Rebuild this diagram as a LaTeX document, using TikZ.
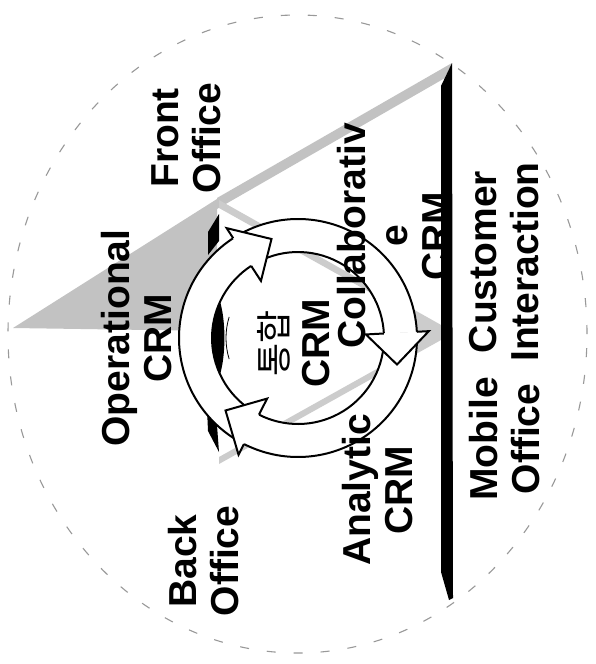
\documentclass[tikz,border=0pt]{standalone}
\usepackage{fontspec}
\setmainfont{Liberation Sans}
\newfontfamily\krfont{Noto Sans CJK KR}
\begin{document}
\begin{tikzpicture}[x=1pt,y=1pt,
  lbl/.style={font=\bfseries\fontsize{39}{42}\selectfont, rotate=90, align=center, inner sep=0pt},
  beam/.style={fill=black!24},
  ringline/.style={line width=2pt, line join=miter},
  bar/.style={fill=black},
]
% page
\fill[white] (0,0) rectangle (596,-664);
\useasboundingbox (0,0) rectangle (596,-664);

% dashed outer outline
\draw[black!40, line width=1.1pt, dash pattern=on 9pt off 18pt]
  (297.5,-334) ellipse[x radius=289.5pt, y radius=319pt];

% grey light fan and beam towards the interaction line
\fill[beam] (13,-328) -- (217,-199) -- (217,-331) -- cycle;
\fill[beam] (217,-198) -- (452,-63) -- (445,-78) -- (217,-209) -- cycle;
% edges of the wedge pointing at the middle of the line
\fill[black!20] (219,-200) -- (450,-330) -- (450,-337) -- (219,-208) -- cycle;
\fill[black!20] (219,-457) -- (450,-328) -- (450,-335) -- (219,-464) -- cycle;
\fill[black!20] (402,-305) -- (451,-333) -- (398,-362) -- cycle;

% customer interaction line
\fill[bar] (452,-63) -- (453,-598) -- (449,-600) -- (441,-572) -- (441,-86) -- cycle;
% back office edges
\fill[bar] (219,-214) -- (219,-241) -- (208,-255) -- (208,-232) -- cycle;
\fill[bar] (207,-409) -- (216,-412) -- (219,-452) -- (208,-431) -- cycle;

% cycle of three curved arrows
\begin{scope}[shift={(298,-338)}]
  \foreach \ta/\ba in {238/123,118/3,358/243}{
    \fill[white] (\ta:119) arc[start angle=\ta,end angle=\ba,radius=119pt]
      -- (\ba:86) arc[start angle=\ba,end angle=\ta,radius=86pt] -- cycle;
    \draw[ringline] (\ta:119) arc[start angle=\ta,end angle=\ba,radius=119pt];
    \draw[ringline] (\ta:86) arc[start angle=\ta,end angle=\ba,radius=86pt];
  }
  \foreach \ba in {123,3,243}{
    \pgfmathsetmacro\tp{\ba-18}
    \fill[white] (\ba:68) -- (\tp:102.5) -- (\ba:131) -- cycle;
    \draw[ringline] (\ba:86) -- (\ba:68) -- (\tp:102.5) -- (\ba:131) -- (\ba:119);
  }
  % inner shadow of the ring
  \fill (155:86) arc[start angle=155,end angle=205,radius=86pt]
    .. controls (193:74) and (167:74) .. cycle;
  \draw[line width=0.8pt] (163:72) arc[start angle=163,end angle=197,radius=72pt];
\end{scope}

% labels
\node[lbl] (front)  at (186.5,-138) {Front\\Office};
\node[lbl] (oper)   at (137,-338)   {Operational\\CRM};
\node[lbl] (back)   at (203.5,-561) {Back\\Office};
\node[lbl] (anal)   at (377.5,-490) {Analytic\\CRM};
\node[lbl] (collab) at (393.5,-236) {Collaborativ\\e\\CRM};
\node[lbl] (cust)   at (504.5,-262) {Customer\\Interaction};
\node[lbl] (mobile) at (504.5,-439) {Mobile\\Office};
\node[lbl] (core)   at (293.5,-343) {{\krfont\mdseries\fontsize{36}{42}\selectfont 통합}\\CRM};
\end{tikzpicture}
\end{document}
